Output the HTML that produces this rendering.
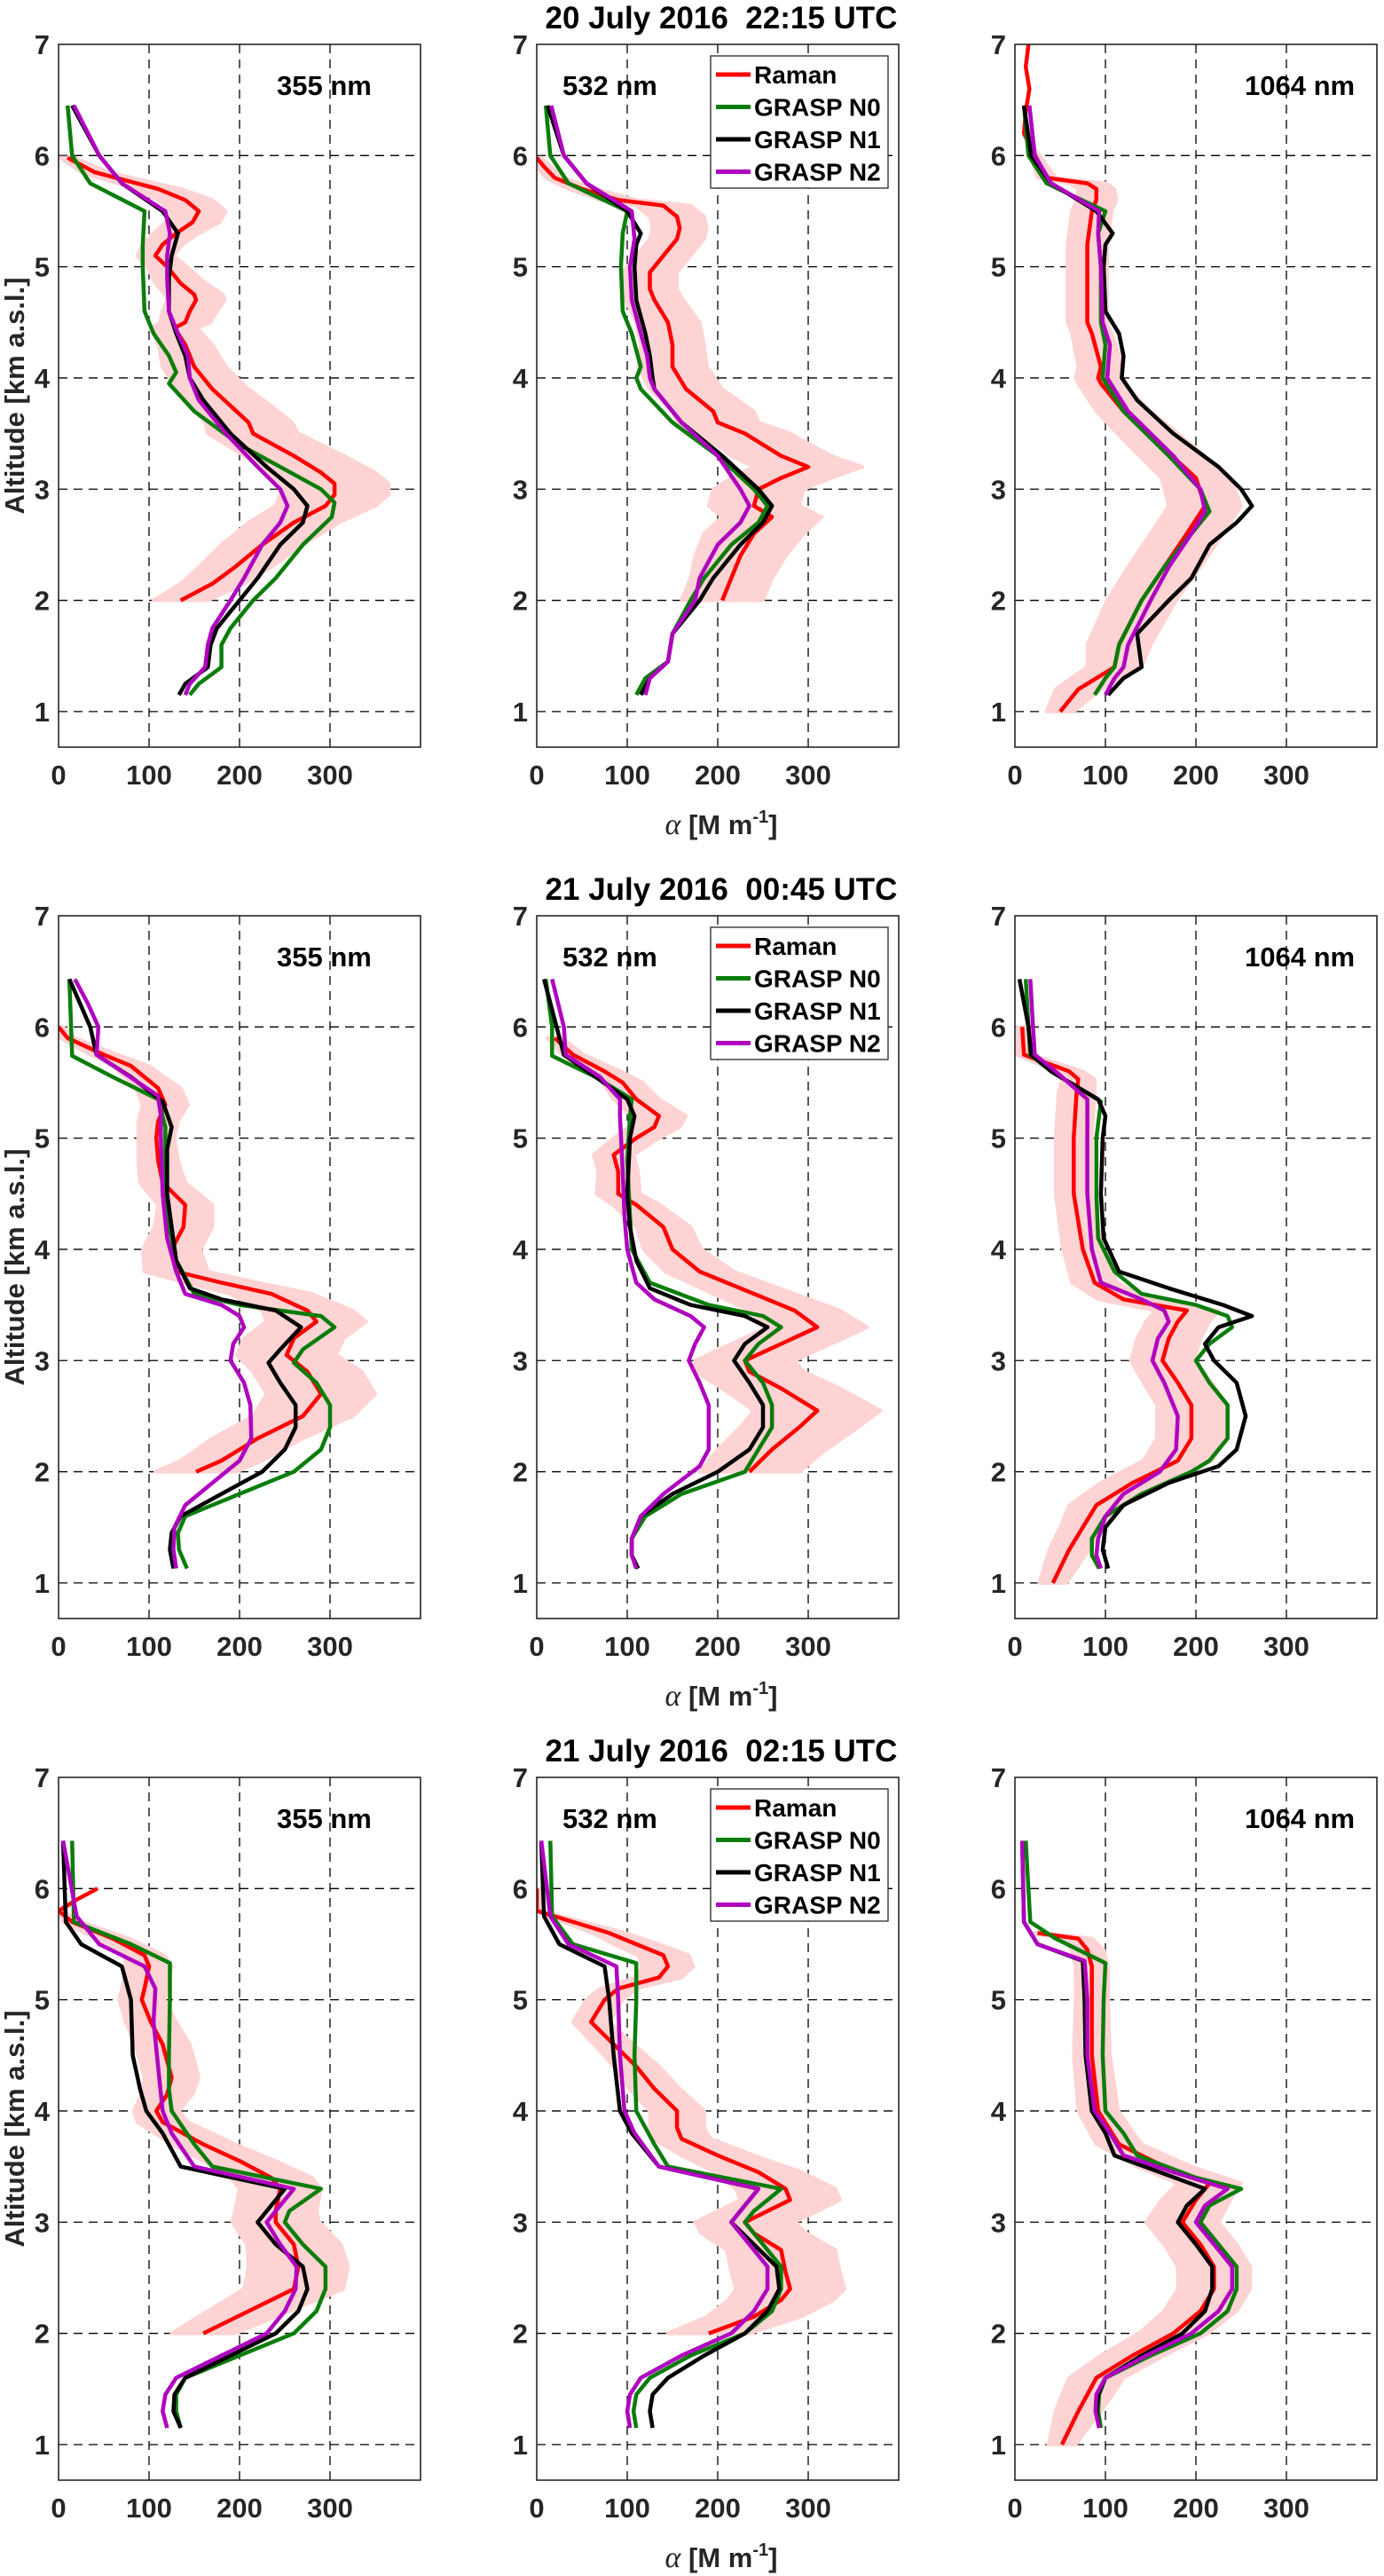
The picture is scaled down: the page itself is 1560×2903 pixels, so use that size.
<!DOCTYPE html>
<html><head><meta charset="utf-8"><title>Extinction profiles</title>
<style>
html,body{margin:0;padding:0;background:#fff;}
svg{display:block;font-family:"Liberation Sans",Arial,sans-serif;}
</style></head>
<body>
<svg id="fig" xmlns="http://www.w3.org/2000/svg" width="1560" height="2903" viewBox="0 0 1560 2903"></svg>
<script>
// ---- data: [altitude km, alpha Mm-1] (Raman: [alt, alpha, err]) ----
const raman_r1_355=[[5.98,10,8],[5.85,40,15],[5.7,110,25],[5.6,140,30],[5.5,155,30],[5.4,148,30],[5.3,130,25],[5.2,115,22],[5.1,107,20],[5.0,120,22],[4.85,135,28],[4.75,150,32],[4.7,152,32],[4.6,145,30],[4.5,140,28],[4.45,128,25],[4.3,140,30],[4.1,150,35],[3.9,170,40],[3.75,190,45],[3.6,210,48],[3.5,215,50],[3.3,260,55],[3.15,290,60],[3.05,305,60],[2.95,305,60],[2.85,295,55],[2.7,260,50],[2.5,225,45],[2.3,195,40],[2.15,170,35],[2.0,135,30]];
const n0_r1_355=[[6.45,10],[6.0,15],[5.75,35],[5.5,95],[5.2,93],[5.0,93],[4.6,95],[4.4,105],[4.2,122],[4.05,130],[3.95,122],[3.7,150],[3.4,200],[3.2,245],[3.0,290],[2.88,305],[2.75,302],[2.5,270],[2.2,240],[2.0,215],[1.75,190],[1.6,180],[1.4,180],[1.25,155],[1.15,145]];
const n1_r1_355=[[6.45,15],[6.0,45],[5.75,70],[5.5,115],[5.3,132],[5.1,125],[4.9,122],[4.6,122],[4.4,130],[4.2,140],[4.0,145],[3.8,160],[3.5,190],[3.2,230],[3.0,260],[2.85,275],[2.7,270],[2.5,245],[2.2,220],[2.0,200],[1.75,175],[1.6,168],[1.4,165],[1.25,140],[1.15,133]];
const n2_r1_355=[[6.45,17],[6.0,45],[5.75,70],[5.5,118],[5.3,123],[5.1,120],[4.9,120],[4.6,122],[4.4,132],[4.2,143],[4.0,145],[3.8,155],[3.5,185],[3.2,220],[3.0,245],[2.85,253],[2.7,245],[2.5,225],[2.2,205],[2.0,190],[1.75,170],[1.6,165],[1.4,162],[1.25,145],[1.15,140]];

const raman_r1_532=[[5.98,0,5],[5.9,8,8],[5.8,20,10],[5.7,50,15],[5.6,90,20],[5.55,140,30],[5.45,155,30],[5.35,158,30],[5.25,155,30],[5.1,140,30],[4.95,125,30],[4.8,125,30],[4.7,130,32],[4.5,145,35],[4.3,150,35],[4.1,150,38],[3.9,165,40],[3.7,195,45],[3.6,200,45],[3.5,230,50],[3.3,270,55],[3.2,300,60],[3.1,270,55],[3.0,245,50],[2.85,240,50],[2.75,260,55],[2.6,240,55],[2.4,225,50],[2.2,215,45],[2.0,205,45]];
const n0_r1_532=[[6.45,10],[6.0,15],[5.75,35],[5.5,100],[5.3,95],[5.0,93],[4.6,95],[4.4,105],[4.1,115],[4.0,110],[3.9,115],[3.6,150],[3.3,200],[3.0,240],[2.85,255],[2.7,245],[2.5,215],[2.2,185],[2.0,170],[1.7,150],[1.45,145],[1.3,120],[1.15,110]];
const n1_r1_532=[[6.45,12],[6.0,30],[5.75,55],[5.5,100],[5.3,115],[5.2,110],[5.0,108],[4.7,110],[4.4,120],[4.2,125],[4.0,128],[3.9,130],[3.6,160],[3.3,205],[3.0,245],[2.85,260],[2.7,250],[2.5,225],[2.2,195],[2.0,180],[1.7,150],[1.45,145],[1.3,125],[1.15,115]];
const n2_r1_532=[[6.45,16],[6.0,30],[5.75,55],[5.5,105],[5.25,108],[5.0,103],[4.7,105],[4.4,115],[4.2,122],[4.0,125],[3.9,130],[3.6,160],[3.3,200],[3.0,225],[2.85,235],[2.7,225],[2.5,200],[2.2,180],[2.0,175],[1.7,150],[1.45,145],[1.3,125],[1.15,120]];

const raman_r1_1064=[[7.0,15,0],[6.8,12,0],[6.6,16,0],[6.4,12,0],[6.2,10,0],[5.8,35,10],[5.75,80,20],[5.7,90,20],[5.6,90,22],[5.5,85,22],[5.2,80,22],[5.0,80,22],[4.5,80,22],[4.4,85,22],[4.1,95,25],[4.0,92,25],[3.95,95,25],[3.7,120,30],[3.4,160,35],[3.1,200,38],[2.85,210,40],[2.6,190,40],[2.3,165,40],[2.0,140,38],[1.6,115,35],[1.4,110,30],[1.3,90,28],[1.2,70,25],[1.0,50,15]];
const n0_r1_1064=[[6.45,10],[6.0,15],[5.75,35],[5.5,100],[5.3,92],[5.0,95],[4.5,95],[4.3,100],[4.0,97],[3.7,120],[3.3,170],[3.0,205],[2.8,215],[2.6,195],[2.3,165],[2.0,140],[1.6,115],[1.4,110],[1.3,100],[1.15,88]];
const n1_r1_1064=[[6.45,10],[6.0,18],[5.75,40],[5.5,90],[5.3,108],[5.2,100],[5.0,98],[4.6,100],[4.4,115],[4.2,120],[4.0,118],[3.8,135],[3.5,175],[3.2,225],[3.0,250],[2.85,262],[2.7,245],[2.5,215],[2.2,195],[2.0,170],[1.7,135],[1.4,140],[1.3,120],[1.15,103]];
const n2_r1_1064=[[6.45,16],[6.0,22],[5.75,40],[5.5,93],[5.3,92],[5.0,95],[4.5,97],[4.3,105],[4.0,102],[3.7,125],[3.3,175],[3.0,205],[2.8,210],[2.6,195],[2.3,170],[2.0,150],[1.6,125],[1.4,120],[1.3,110],[1.15,100]];

const raman_r2_355=[[6.0,0,5],[5.9,10,8],[5.75,50,15],[5.65,80,20],[5.55,95,22],[5.45,110,25],[5.3,118,25],[5.15,110,22],[5.0,108,20],[4.8,110,22],[4.6,115,25],[4.4,140,30],[4.2,138,32],[4.0,125,32],[3.8,130,35],[3.7,180,40],[3.6,235,45],[3.45,275,50],[3.35,285,55],[3.2,260,55],[3.05,252,55],[2.9,275,60],[2.7,290,60],[2.5,270,55],[2.3,220,50],[2.1,180,45],[2.0,152,45]];
const n0_r2_355=[[6.43,12],[5.74,15],[5.55,60],[5.35,110],[5.1,118],[4.8,118],[4.3,120],[3.9,130],[3.6,150],[3.5,200],[3.4,290],[3.3,305],[3.1,270],[2.98,260],[2.8,285],[2.6,300],[2.4,300],[2.2,290],[2.0,260],[1.8,200],[1.6,140],[1.45,132],[1.3,133],[1.13,142]];
const n1_r2_355=[[6.43,12],[6.0,35],[5.75,42],[5.55,80],[5.33,115],[5.1,125],[4.9,120],[4.5,120],[4.2,125],[3.9,130],[3.65,145],[3.55,180],[3.45,240],[3.3,268],[3.1,245],[2.98,232],[2.8,245],[2.6,262],[2.4,262],[2.2,250],[2.0,225],[1.8,180],[1.6,135],[1.45,125],[1.3,123],[1.13,127]];
const n2_r2_355=[[6.43,18],[6.2,33],[6.0,44],[5.75,42],[5.6,70],[5.38,110],[5.2,113],[5.0,113],[4.5,115],[4.1,120],[3.8,130],[3.6,140],[3.5,180],[3.4,200],[3.3,205],[3.15,193],[3.0,190],[2.8,205],[2.6,212],[2.3,213],[2.1,200],[1.9,170],[1.7,140],[1.5,128],[1.3,127],[1.13,130]];

const raman_r2_532=[[5.9,20,8],[5.75,40,12],[5.6,75,18],[5.5,95,22],[5.35,110,25],[5.2,135,30],[5.1,130,28],[5.0,110,25],[4.85,85,22],[4.7,90,22],[4.5,90,24],[4.4,110,26],[4.2,140,30],[4.0,150,32],[3.8,180,38],[3.6,240,45],[3.45,285,50],[3.3,310,55],[3.15,270,55],[3.0,230,55],[2.9,235,60],[2.75,270,65],[2.55,310,70],[2.4,290,65],[2.2,260,60],[2.0,235,55]];
const n0_r2_532=[[6.43,10],[6.0,17],[5.74,17],[5.55,65],[5.35,105],[5.2,103],[4.8,100],[4.3,103],[4.0,105],[3.7,125],[3.5,190],[3.4,250],[3.3,270],[3.15,245],[3.0,230],[2.8,250],[2.6,260],[2.4,260],[2.2,245],[2.0,230],[1.8,160],[1.6,120],[1.4,105],[1.25,105],[1.13,112]];
const n1_r2_532=[[6.43,8],[6.0,22],[5.75,30],[5.55,65],[5.35,100],[5.2,108],[5.0,103],[4.5,100],[4.2,103],[3.9,110],[3.65,125],[3.5,170],[3.4,230],[3.3,255],[3.15,230],[3.0,218],[2.8,235],[2.6,250],[2.4,250],[2.2,235],[2.0,200],[1.8,150],[1.6,115],[1.4,105],[1.25,105],[1.13,112]];
const n2_r2_532=[[6.43,17],[6.0,30],[5.75,32],[5.55,70],[5.35,92],[5.2,92],[4.7,95],[4.3,97],[4.0,100],[3.7,110],[3.55,130],[3.4,170],[3.3,185],[3.15,175],[3.0,168],[2.8,180],[2.6,190],[2.4,190],[2.2,190],[2.05,180],[1.8,140],[1.6,115],[1.4,105],[1.25,105],[1.13,110]];

const raman_r2_1064=[[6.0,8,5],[5.75,10,8],[5.6,60,15],[5.53,70,18],[5.4,68,20],[5.0,65,20],[4.5,65,20],[4.0,75,22],[3.7,88,25],[3.55,120,28],[3.45,190,35],[3.35,180,35],[3.2,170,35],[3.0,163,35],[2.8,180,38],[2.6,195,38],[2.3,195,38],[2.1,180,38],[1.9,130,35],[1.7,90,30],[1.5,75,25],[1.3,60,22],[1.0,42,15]];
const n0_r2_1064=[[6.43,12],[6.0,15],[5.75,17],[5.6,40],[5.33,95],[5.2,93],[5.0,90],[4.5,90],[4.1,92],[3.8,110],[3.6,140],[3.5,200],[3.4,235],[3.3,240],[3.15,215],[3.0,200],[2.8,215],[2.6,235],[2.3,235],[2.1,215],[2.0,195],[1.8,140],[1.6,100],[1.4,85],[1.25,85],[1.13,93]];
const n1_r2_1064=[[6.43,5],[6.0,15],[5.75,18],[5.6,40],[5.35,92],[5.2,100],[5.0,97],[4.5,95],[4.1,98],[3.8,115],[3.65,170],[3.5,230],[3.4,262],[3.3,225],[3.15,210],[3.0,220],[2.8,245],[2.5,255],[2.2,245],[2.05,225],[1.9,170],[1.7,120],[1.5,100],[1.3,97],[1.13,103]];
const n2_r2_1064=[[6.43,17],[6.0,20],[5.75,22],[5.6,45],[5.35,80],[5.0,80],[4.5,80],[4.0,85],[3.7,95],[3.55,140],[3.45,165],[3.35,170],[3.2,158],[3.0,152],[2.8,165],[2.5,180],[2.2,178],[2.0,160],[1.8,120],[1.6,100],[1.4,92],[1.25,90],[1.13,95]];

const raman_r3_355=[[6.0,43,0],[5.9,20,0],[5.8,0,5],[5.7,15,10],[5.55,60,18],[5.4,95,22],[5.3,100,25],[5.1,95,25],[5.0,92,25],[4.8,102,28],[4.6,115,30],[4.3,125,30],[4.15,120,28],[4.0,108,25],[3.9,115,28],[3.7,160,35],[3.55,200,40],[3.4,235,45],[3.3,245,45],[3.1,240,45],[3.0,240,48],[2.8,260,52],[2.6,265,55],[2.4,260,55],[2.2,210,45],[2.0,160,35]];
const n0_r3_355=[[6.43,15],[5.7,17],[5.5,80],[5.33,123],[5.0,123],[4.5,122],[4.2,122],[4.0,125],[3.7,150],[3.5,170],[3.3,290],[3.1,255],[3.0,250],[2.8,270],[2.6,295],[2.4,295],[2.2,285],[2.0,260],[1.8,200],[1.6,140],[1.45,130],[1.3,130],[1.15,135]];
const n1_r3_355=[[6.43,5],[5.7,8],[5.5,25],[5.3,70],[5.0,80],[4.5,82],[4.2,90],[4.0,97],[3.8,115],[3.5,135],[3.3,250],[3.15,235],[3.0,220],[2.8,240],[2.6,270],[2.4,275],[2.2,265],[2.0,240],[1.8,190],[1.6,140],[1.45,128],[1.3,127],[1.15,135]];
const n2_r3_355=[[6.43,5],[5.75,20],[5.5,45],[5.3,95],[5.1,107],[4.8,105],[4.4,110],[4.0,115],[3.8,125],[3.5,150],[3.3,260],[3.1,240],[3.0,230],[2.8,245],[2.6,263],[2.4,262],[2.2,250],[2.0,230],[1.8,180],[1.6,130],[1.45,118],[1.3,115],[1.15,120]];

const raman_r3_532=[[6.0,0,3],[5.8,0,3],[5.75,20,8],[5.6,80,18],[5.5,110,25],[5.4,140,28],[5.3,145,28],[5.2,135,25],[5.1,90,20],[5.0,75,20],[4.8,60,20],[4.6,85,22],[4.4,110,25],[4.2,130,28],[4.0,155,30],[3.85,155,30],[3.75,160,32],[3.6,200,40],[3.45,245,48],[3.3,275,55],[3.2,280,55],[3.0,230,55],[2.9,240,58],[2.75,270,60],[2.55,275,60],[2.4,280,60],[2.3,270,58],[2.15,240,52],[2.0,190,45]];
const n0_r3_532=[[6.43,15],[5.75,17],[5.5,40],[5.33,110],[5.0,110],[4.5,108],[4.0,110],[3.7,130],[3.5,145],[3.3,270],[3.1,240],[3.0,230],[2.8,250],[2.6,270],[2.4,270],[2.2,260],[2.0,230],[1.8,170],[1.6,125],[1.45,110],[1.3,107],[1.15,110]];
const n1_r3_532=[[6.43,5],[5.75,8],[5.5,25],[5.3,75],[5.0,80],[4.5,85],[4.0,92],[3.8,105],[3.5,135],[3.3,245],[3.1,225],[3.0,215],[2.8,240],[2.6,265],[2.4,268],[2.2,255],[2.0,230],[1.8,185],[1.6,145],[1.45,128],[1.3,125],[1.15,128]];
const n2_r3_532=[[6.43,5],[5.75,15],[5.5,35],[5.3,88],[5.0,90],[4.5,92],[4.0,97],[3.8,108],[3.5,135],[3.3,245],[3.1,225],[3.0,215],[2.8,235],[2.6,255],[2.4,255],[2.2,240],[2.0,215],[1.8,160],[1.6,115],[1.45,103],[1.3,100],[1.15,103]];

const raman_r3_1064=[[5.6,25,8],[5.55,70,15],[5.45,80,18],[5.3,85,18],[5.0,85,18],[4.5,85,20],[4.0,92,22],[3.7,115,25],[3.5,165,30],[3.35,215,35],[3.2,200,38],[3.0,185,40],[2.8,205,40],[2.6,220,40],[2.4,220,40],[2.2,205,40],[2.0,175,38],[1.8,130,35],[1.6,90,30],[1.45,80,28],[1.3,70,25],[1.0,52,15]];
const n0_r3_1064=[[6.43,12],[5.7,17],[5.55,45],[5.33,100],[5.0,98],[4.5,97],[4.0,100],[3.8,120],[3.6,135],[3.4,200],[3.3,250],[3.15,215],[3.0,205],[2.8,225],[2.6,245],[2.4,245],[2.2,235],[2.0,205],[1.8,150],[1.6,100],[1.45,93],[1.3,92],[1.15,95]];
const n1_r3_1064=[[6.43,8],[5.7,10],[5.5,25],[5.35,75],[5.0,77],[4.5,78],[4.0,85],[3.8,100],[3.6,110],[3.45,160],[3.3,210],[3.15,190],[3.0,180],[2.8,200],[2.6,218],[2.4,218],[2.2,210],[2.0,185],[1.8,140],[1.6,100],[1.45,92],[1.3,90],[1.15,93]];
const n2_r3_1064=[[6.43,8],[5.7,10],[5.5,25],[5.35,77],[5.0,80],[4.5,80],[4.0,88],[3.8,105],[3.6,120],[3.45,175],[3.3,235],[3.15,210],[3.0,200],[2.8,220],[2.6,240],[2.4,240],[2.2,225],[2.0,195],[1.8,145],[1.6,100],[1.45,90],[1.3,89],[1.15,93]];

const rowTitles=["20 July 2016  22:15 UTC","21 July 2016  00:45 UTC","21 July 2016  02:15 UTC"];
const wavelengths=["355 nm","532 nm","1064 nm"];
const xTicks=[0,100,200,300];
const yTicks=[1,2,3,4,5,6,7];
const seriesNames=["Raman","GRASP N0","GRASP N1","GRASP N2"];

// ---- layout ----
const NS="http://www.w3.org/2000/svg";
const svg=document.getElementById('fig');
const colX=[66,605,1144], rowY=[50,1032,2003], W=408, H=792;
const XMIN=0,XMAX=400,YMIN=0.68,YMAX=7;
const COLORS=["#ff0000","#0a7d0a","#000000","#b000c0"];
const dataGrid=[
 [[raman_r1_355,n0_r1_355,n1_r1_355,n2_r1_355],[raman_r1_532,n0_r1_532,n1_r1_532,n2_r1_532],[raman_r1_1064,n0_r1_1064,n1_r1_1064,n2_r1_1064]],
 [[raman_r2_355,n0_r2_355,n1_r2_355,n2_r2_355],[raman_r2_532,n0_r2_532,n1_r2_532,n2_r2_532],[raman_r2_1064,n0_r2_1064,n1_r2_1064,n2_r2_1064]],
 [[raman_r3_355,n0_r3_355,n1_r3_355,n2_r3_355],[raman_r3_532,n0_r3_532,n1_r3_532,n2_r3_532],[raman_r3_1064,n0_r3_1064,n1_r3_1064,n2_r3_1064]]
];
function mk(tag,attrs,parent){const e=document.createElementNS(NS,tag);for(const k in attrs)e.setAttribute(k,attrs[k]);(parent||svg).appendChild(e);return e;}

const defs=mk('defs',{});
for(let r=0;r<3;r++){
  const title=mk('text',{x:813,y:rowY[r]-18,'text-anchor':'middle','font-size':35,'font-weight':'bold',fill:'#000'});
  
  
  title.style.whiteSpace='pre';
  title.textContent=rowTitles[r];
  const yl=mk('text',{x:0,y:0,transform:`translate(27,${rowY[r]+H/2}) rotate(-90)`,'text-anchor':'middle','font-size':31,'font-weight':'bold',fill:'#262626'});
  
  
  yl.textContent='Altitude [km a.s.l.]';
  for(let c=0;c<3;c++){
    const L=colX[c],T=rowY[r];
    const sx=v=>L+(v-XMIN)/(XMAX-XMIN)*W;
    const sy=a=>T+(YMAX-a)/(YMAX-YMIN)*H;
    const g=mk('g',{});
    
    
    const cid='clip'+r+c;
    const cp=mk('clipPath',{id:cid},defs);mk('rect',{x:L,y:T,width:W,height:H},cp);
    mk('rect',{x:L,y:T,width:W,height:H,fill:'#fff'},g);
    // grid
    const grid=mk('g',{stroke:'#000','stroke-width':1.3,'stroke-dasharray':'10,7'},g);
    
    
    xTicks.forEach(t=>{if(t>XMIN)mk('line',{x1:sx(t),x2:sx(t),y1:T,y2:T+H},grid);});
    yTicks.forEach(t=>{if(t<YMAX)mk('line',{x1:L,x2:L+W,y1:sy(t),y2:sy(t)},grid);});
    const series=dataGrid[r][c];
    const plot=mk('g',{'clip-path':`url(#${cid})`},g);
    // raman uncertainty band
    const ram=series[0];
    const hi=ram.map(p=>`${sx(p[1]+p[2]).toFixed(1)},${sy(p[0]).toFixed(1)}`);
    const lo=ram.slice().reverse().map(p=>`${sx(Math.max(0,p[1]-p[2])).toFixed(1)},${sy(p[0]).toFixed(1)}`);
    const band=mk('polygon',{points:hi.concat(lo).join(' '),fill:'#fdd3d3',stroke:'#fdd3d3','stroke-width':4,'stroke-linejoin':'round'},plot);
    
    
    // lines: draw N0,N1,N2 then Raman? original draws raman under; order: raman, N0, N1, N2
    [0,1,2,3].forEach(i=>{
      const pts=series[i].map(p=>`${sx(p[1]).toFixed(1)},${sy(p[0]).toFixed(1)}`).join(' ');
      const pl=mk('polyline',{points:pts,fill:'none',stroke:COLORS[i],'stroke-width':4.5,'stroke-linejoin':'round','stroke-linecap':'butt'},plot);
      
      
    });
    // frame
    const fr=mk('rect',{x:L,y:T,width:W,height:H,fill:'none',stroke:'#262626','stroke-width':1.6},g);
    
    
    // tick labels
    xTicks.forEach(t=>{
      const tx=mk('text',{x:sx(t),y:T+H+42,'text-anchor':'middle','font-size':31,'font-weight':'bold',fill:'#262626'},g);
      
      
      tx.textContent=t;
    });
    yTicks.forEach(t=>{
      const ty=mk('text',{x:L-10,y:sy(t)+11,'text-anchor':'end','font-size':31,'font-weight':'bold',fill:'#262626'},g);
      
      
      ty.textContent=t;
    });
    // wavelength label
    const wx=c===0?L+246:(c===1?L+29:L+259);
    const wl=mk('text',{x:wx,y:T+57,'font-size':31,'font-weight':'bold',fill:'#000'},g);
    
    
    wl.textContent=wavelengths[c];
    // legend
    if(c===1){
      const lg=mk('g',{},g);
      
      
      mk('rect',{x:L+196,y:T+13,width:200,height:149,fill:'#fff',stroke:'#262626','stroke-width':1.3},lg);
      seriesNames.forEach((n,i)=>{
        const yy=T+34+i*36.5;
        const ent=mk('g',{},lg);
        
        
        mk('line',{x1:L+202,x2:L+241,y1:yy,y2:yy,stroke:COLORS[i],'stroke-width':5},ent);
        const t=mk('text',{x:L+245,y:yy+10,'font-size':28,'font-weight':'bold',fill:'#000'},ent);
        t.textContent=n;
      });
    }
  }
  // x-axis title
  const xt=mk('text',{x:813,y:rowY[r]+H+98,'text-anchor':'middle','font-size':31,'font-weight':'bold',fill:'#262626'});
  
  
  xt.innerHTML='<tspan font-family="Liberation Serif, serif" font-style="italic" font-weight="normal" font-size="34">α</tspan> [M m<tspan dy="-13" font-size="20">-1</tspan><tspan dy="13">]</tspan>';
}
</script>
</body></html>
